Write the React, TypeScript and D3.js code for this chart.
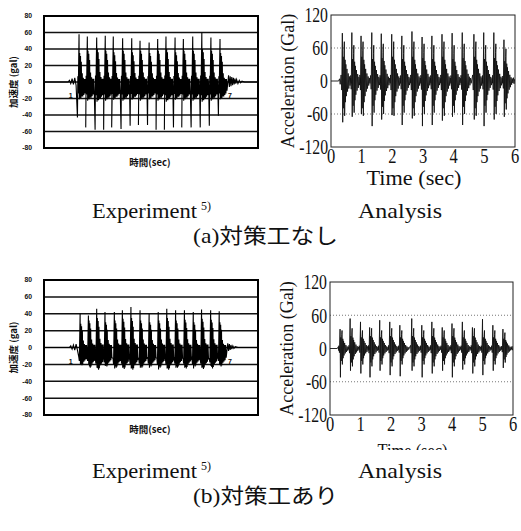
import React from 'react';
import * as d3 from 'd3';

// ---------- tick labels ----------
const expTickValues = [80, 60, 40, 20, 0, -20, -40, -60, -80];
const expGridValues = [60, 40, 20, 0, -20, -40, -60];
const anaYTickValues = [120, 60, 0, -60, -120];
const anaGridValues = [60, -60];
const anaXTickValues = [0, 1, 2, 3, 4, 5, 6];

// ---------- (a) experiment: pulse times, main peaks, ringing level ----------
const expATimes = [1.31, 1.62, 1.97, 2.29, 2.59, 2.94, 3.28, 3.59, 3.93, 4.25, 4.56, 4.9, 5.21, 5.56, 5.9, 6.24, 6.58];
const expAPos = [58, 55, 54, 56, 55, 53, 53, 50, 48, 52, 55, 54, 52, 55, 60, 54, 52];
const expANeg = [-43, -55, -58, -58, -55, -57, -53, -52, -52, -58, -58, -55, -55, -55, -55, -53, -41];
const expARing = [35, 38, 40, 38, 36, 38, 36, 38, 35, 38, 40, 36, 38, 38, 40, 38, 35];
const expAPre: [number, number][] = [[0, 0], [0.9, 0], [0.95, 2], [1.0, -2], [1.05, 4], [1.1, -3], [1.15, 5], [1.2, -4]];
const expATail: [number, number][] = [[6.9, 8], [6.93, -6], [6.96, 7], [6.99, -5], [7.02, 6], [7.05, -4], [7.08, 5], [7.11, -3], [7.14, 4], [7.17, -2], [7.2, 3], [7.25, -2], [7.3, 2], [7.35, -1], [7.4, 1], [7.5, 0], [8, 0]];

// ---------- (b) experiment ----------
const expBTimes = [1.35, 1.66, 1.97, 2.28, 2.63, 2.93, 3.25, 3.59, 3.93, 4.27, 4.59, 4.92, 5.25, 5.58, 5.89, 6.23, 6.55];
const expBPos = [40, 38, 46, 42, 42, 44, 48, 44, 40, 42, 46, 44, 44, 42, 45, 44, 43];
const expBNeg = [-20, -20, -24, -22, -25, -24, -25, -24, -24, -26, -25, -24, -24, -25, -24, -22, -20];
const expBRing = [28, 32, 35, 30, 32, 34, 35, 32, 30, 32, 35, 32, 33, 30, 34, 33, 30];
const expBPre: [number, number][] = [[0, 0], [0.95, 0], [1.0, 2], [1.05, -2], [1.1, 3], [1.15, -3], [1.2, 4], [1.25, -3]];
const expBTail: [number, number][] = [[6.87, 5], [6.9, -4], [6.93, 4], [6.96, -3], [6.99, 3], [7.02, -2], [7.06, 2], [7.1, -1], [7.15, 1], [7.25, 0], [8, 0]];

// ---------- (a) analysis ----------
const anaATimes = [0.37, 0.68, 0.98, 1.33, 1.64, 1.98, 2.31, 2.64, 2.97, 3.29, 3.62, 3.95, 4.28, 4.66, 4.98, 5.31, 5.64];
const anaAPos = [87, 88, 82, 88, 86, 85, 82, 90, 80, 82, 85, 87, 88, 85, 88, 88, 75];
const anaANeg = [-75, -65, -60, -82, -70, -62, -80, -68, -82, -80, -72, -65, -80, -70, -82, -70, -65];
const anaARing = [55, 50, 55, 50, 52, 55, 50, 55, 52, 50, 55, 50, 52, 55, 50, 52, 45];
const anaAPre: [number, number][] = [[0, 0], [0.25, 0], [0.28, 4], [0.3, -6]];
const anaATail: [number, number][] = [[5.95, 6], [5.97, -5], [5.99, 3], [6, 0]];

// ---------- (b) analysis ----------
const anaBTimes = [0.33, 0.66, 1.0, 1.3, 1.63, 1.96, 2.29, 2.68, 3.01, 3.34, 3.68, 4.0, 4.34, 4.67, 5.0, 5.34, 5.67];
const anaBPos = [35, 54, 48, 38, 51, 48, 42, 54, 42, 48, 38, 45, 48, 38, 53, 42, 35];
const anaBNeg = [-52, -40, -45, -52, -40, -48, -50, -40, -52, -45, -40, -52, -38, -45, -48, -40, -35];
const anaBRing = [25, 28, 25, 28, 25, 28, 25, 28, 25, 28, 25, 28, 25, 28, 25, 25, 22];
const anaBPre: [number, number][] = [[0, 0], [0.24, 0], [0.27, 3], [0.29, -4]];
const anaBTail: [number, number][] = [[5.97, 4], [5.98, -3], [6, 0]];

// pulse shapes read from a single pulse: [dt, P(main +)/N(main -)/R(ring), fraction]
type Tpl = [number, 'P' | 'N' | 'R', number][];
const expATemplate: Tpl = [[-0.06, 'N', 1], [-0.045, 'R', 0.2], [-0.03, 'R', -0.4], [-0.015, 'R', 0.6], [0, 'P', 1], [0.012, 'R', -0.6], [0.025, 'R', 1.0], [0.04, 'R', -0.55], [0.055, 'R', 0.9], [0.07, 'R', -0.55], [0.085, 'R', 0.7], [0.1, 'R', -0.5], [0.12, 'R', 0.3], [0.14, 'R', -0.5], [0.16, 'R', 0.15], [0.18, 'R', -0.45], [0.2, 'R', 0.1], [0.22, 'R', -0.4], [0.24, 'R', 0.1], [0.26, 'R', -0.3]];
const expBTemplate: Tpl = [[-0.05, 'R', -0.4], [-0.03, 'N', 0.8], [-0.015, 'R', 0.4], [0, 'P', 1], [0.012, 'N', 1], [0.025, 'R', 1.0], [0.04, 'R', -0.7], [0.055, 'R', 0.9], [0.07, 'R', -0.75], [0.085, 'R', 0.7], [0.1, 'R', -0.7], [0.12, 'R', 0.3], [0.14, 'R', -0.6], [0.16, 'R', 0.15], [0.18, 'R', -0.55], [0.2, 'R', 0.1], [0.22, 'R', -0.5], [0.24, 'R', 0.1], [0.26, 'R', -0.4]];
const anaTemplate: Tpl = [[-0.04, 'R', 0.2], [-0.02, 'R', -0.3], [0, 'P', 1], [0.012, 'N', 1], [0.025, 'R', 0.8], [0.04, 'R', -0.9], [0.055, 'R', 1.0], [0.065, 'R', 1.3], [0.075, 'R', -1.15], [0.09, 'R', 0.7], [0.1, 'R', -0.7], [0.115, 'R', 0.55], [0.13, 'R', -0.5], [0.15, 'R', 0.4], [0.17, 'R', -0.35], [0.19, 'R', 0.25], [0.21, 'R', -0.25], [0.23, 'R', 0.15], [0.25, 'R', -0.15], [0.27, 'R', 0.1], [0.29, 'R', -0.08]];

function buildSeries(times: number[], pos: number[], neg: number[], ring: number[], tpl: Tpl, pre: [number, number][], tail: [number, number][]) {
  const pts: [number, number][] = [...pre];
  times.forEach((t, i) => {
    tpl.forEach(([dt, k, f]) => {
      const v = k === 'P' ? f * pos[i] : k === 'N' ? f * neg[i] : f * ring[i];
      pts.push([t + dt, v]);
    });
  });
  pts.push(...tail);
  return pts;
}

const serif = "'Times New Roman', Times, 'Liberation Serif', 'DejaVu Serif', serif";
const sans = "Arial, 'Liberation Sans', 'DejaVu Sans', sans-serif";
const cjk = "'Noto Sans CJK JP', sans-serif";

function ExpPanel({ id, top, bottom, data, markerY }: { id: string; top: number; bottom: number; data: [number, number][]; markerY: number }) {
  const left = 44, right = 258;
  const x = d3.scaleLinear().domain([0, 8]).range([left, right]);
  const y = d3.scaleLinear().domain([-80, 80]).range([bottom, top]);
  const line = d3.line<[number, number]>().x(d => x(d[0])).y(d => y(d[1]));
  const mid = (top + bottom) / 2;
  return (
    <g>
      <defs>
        <clipPath id={id}><rect x={left} y={top} width={right - left} height={bottom - top} /></clipPath>
      </defs>
      {expGridValues.map(v => (
        <line key={v} x1={left} x2={right} y1={y(v)} y2={y(v)} stroke="#111" strokeWidth={1.5} />
      ))}
      <path d={line(data) || ''} fill="none" stroke="#000" strokeWidth={1.1} clipPath={`url(#${id})`} />
      <rect x={left} y={top} width={right - left} height={bottom - top} fill="none" stroke="#000" strokeWidth={2} />
      {expTickValues.map(v => (
        <text key={v} x={32} y={y(v)} dy="0.35em" textAnchor="end" style={{ fontFamily: sans }} fontWeight={700} fontSize={6.8} fill="#111">{v}</text>
      ))}
      <text transform={`translate(17,${mid}) rotate(-90)`} textAnchor="middle" style={{ fontFamily: cjk }} fontWeight={700} fontSize={9.5} fill="#111">加速度 (gal)</text>
      <text x={150} y={bottom + 18} textAnchor="middle" style={{ fontFamily: cjk }} fontWeight={700} fontSize={9.5} fill="#111">時間(sec)</text>
      <text x={x(1.0)} y={y(markerY)} dy="0.35em" textAnchor="middle" style={{ fontFamily: sans }} fontWeight={700} fontSize={7} fill="#111">1</text>
      <text x={x(6.95)} y={y(markerY)} dy="0.35em" textAnchor="middle" style={{ fontFamily: sans }} fontWeight={700} fontSize={7} fill="#111">7</text>
    </g>
  );
}

function AnaPanel({ id, left, right, top, bottom, data, timeClip, timeY, timeSize, timeLen }: { id: string; left: number; right: number; top: number; bottom: number; data: [number, number][]; timeClip?: number; timeY: number; timeSize: number; timeLen: number }) {
  const x = d3.scaleLinear().domain([0, 6]).range([left, right]);
  const y = d3.scaleLinear().domain([-120, 120]).range([bottom, top]);
  const line = d3.line<[number, number]>().x(d => x(d[0])).y(d => y(d[1]));
  const mid = (top + bottom) / 2;
  return (
    <g>
      <defs>
        <clipPath id={id}><rect x={left} y={top} width={right - left} height={bottom - top} /></clipPath>
        {timeClip !== undefined && (
          <clipPath id={id + 't'}><rect x={0} y={0} width={521} height={timeClip} /></clipPath>
        )}
      </defs>
      {anaGridValues.map(v => (
        <line key={v} x1={left} x2={right} y1={y(v)} y2={y(v)} stroke="#777" strokeWidth={1} strokeDasharray="1,2" />
      ))}
      <path d={line(data) || ''} fill="none" stroke="#111" strokeWidth={0.9} clipPath={`url(#${id})`} />
      <rect x={left} y={top} width={right - left} height={bottom - top} fill="none" stroke="#222" strokeWidth={1} />
      {anaYTickValues.map(v => (
        <text key={v} transform={`translate(${left - 3},${y(v)}) scale(0.75,1)`} dy="0.35em" textAnchor="end" style={{ fontFamily: serif }} fontSize={21} fill="#111">{v}</text>
      ))}
      {anaXTickValues.map(v => (
        <text key={v} transform={`translate(${x(v)},${bottom + 16}) scale(0.75,1)`} textAnchor="middle" style={{ fontFamily: serif }} fontSize={22} fill="#111">{v}</text>
      ))}
      <text transform={`translate(${left - 37},${mid}) rotate(-90)`} textAnchor="middle" style={{ fontFamily: serif }} fontSize={18} fill="#111">Acceleration (Gal)</text>
      <g clipPath={timeClip !== undefined ? `url(#${id}t)` : undefined}>
        <text x={(left + right) / 2 - 9} y={timeY} textAnchor="middle" style={{ fontFamily: serif }} fontSize={timeSize} fill="#111" textLength={timeLen} lengthAdjust="spacingAndGlyphs">Time (sec)</text>
      </g>
    </g>
  );
}

export default function App() {
  const expA = buildSeries(expATimes, expAPos, expANeg, expARing, expATemplate, expAPre, expATail);
  const expB = buildSeries(expBTimes, expBPos, expBNeg, expBRing, expBTemplate, expBPre, expBTail);
  const anaA = buildSeries(anaATimes, anaAPos, anaANeg, anaARing, anaTemplate, anaAPre, anaATail);
  const anaB = buildSeries(anaBTimes, anaBPos, anaBNeg, anaBRing, anaTemplate, anaBPre, anaBTail);
  return (
    <svg width={521} height={531} viewBox="0 0 521 531" style={{ position: 'absolute', left: 0, top: 0, background: '#fff' }}>
      <rect width={521} height={531} fill="#fff" />
      <ExpPanel id="ea" top={16} bottom={148} data={expA} markerY={-17} />
      <AnaPanel id="aa" left={331} right={515} top={15} bottom={147} data={anaA} timeY={185} timeSize={20} timeLen={95} />
      <ExpPanel id="eb" top={280} bottom={415} data={expB} markerY={-17} />
      <AnaPanel id="ab" left={330} right={513} top={282} bottom={415} data={anaB} timeClip={450} timeY={457} timeSize={18} timeLen={70} />
      <g fill="#111">
        <text x={92} y={218} style={{ fontFamily: serif }} fontSize={21} textLength={105} lengthAdjust="spacingAndGlyphs">Experiment</text>
        <text x={201} y={210} style={{ fontFamily: serif }} fontSize={12}>5)</text>
        <text x={358} y={218} style={{ fontFamily: serif }} fontSize={21} textLength={84} lengthAdjust="spacingAndGlyphs">Analysis</text>
        <text x={193} y={243} fontSize={21} textLength={145} lengthAdjust="spacingAndGlyphs"><tspan style={{ fontFamily: serif }}>(a)</tspan><tspan style={{ fontFamily: cjk }}>対策工なし</tspan></text>
        <text x={92} y={478} style={{ fontFamily: serif }} fontSize={21} textLength={105} lengthAdjust="spacingAndGlyphs">Experiment</text>
        <text x={201} y={470} style={{ fontFamily: serif }} fontSize={12}>5)</text>
        <text x={358} y={478} style={{ fontFamily: serif }} fontSize={21} textLength={84} lengthAdjust="spacingAndGlyphs">Analysis</text>
        <text x={193} y={503} fontSize={21} textLength={145} lengthAdjust="spacingAndGlyphs"><tspan style={{ fontFamily: serif }}>(b)</tspan><tspan style={{ fontFamily: cjk }}>対策工あり</tspan></text>
      </g>
    </svg>
  );
}
